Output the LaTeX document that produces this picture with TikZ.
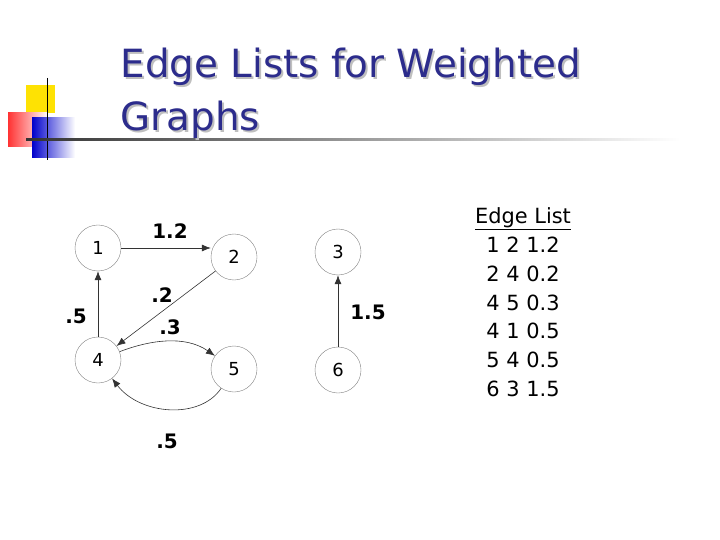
\documentclass[tikz,border=0pt]{standalone}
\usepackage{fontspec}
\setmainfont{DejaVu Sans}
\usetikzlibrary{arrows.meta}
\definecolor{titleblue}{RGB}{44,44,140}
\begin{document}
\begin{tikzpicture}[x=1bp,y=-1bp,>={Latex[length=9bp,width=7bp]},
  vertex/.style={draw=gray,circle,minimum size=46bp,inner sep=0pt,font=\fontsize{18}{18}\selectfont},
  weight/.style={font=\bfseries\fontsize{20}{20}\selectfont},
  edgeline/.style={draw=black!80,->,semithick}]
\useasboundingbox (0,0) rectangle (720,540);
%% corner squares and rule
\fill[yellow!85!orange] (26,85) rectangle (55,113);
\shade[left color=red!80,right color=white] (8,113) rectangle (48,147);
\shade[left color=blue!80!black,right color=white] (32,118) rectangle (75,158);
\draw[thick] (47,78) -- (47,160);
\shade[left color=black!80,right color=white] (26,139) rectangle (680,141);
%% title
\node[anchor=base west,text=gray!50,font=\fontsize{39}{39}\selectfont] at (119,80) {Edge Lists for Weighted};
\node[anchor=base west,text=titleblue,font=\fontsize{39}{39}\selectfont] at (117,78) (title1) {Edge Lists for Weighted};
\node[anchor=base west,text=gray!50,font=\fontsize{39}{39}\selectfont] at (119,133) {Graphs};
\node[anchor=base west,text=titleblue,font=\fontsize{39}{39}\selectfont] at (117,131) (title2) {Graphs};
%% graph
\node (node_1) at (98,248) [vertex] {1};
\node (node_2) at (234,257) [vertex] {2};
\node (node_3) at (338,252) [vertex] {3};
\node (node_4) at (98,360) [vertex] {4};
\node (node_5) at (234,369) [vertex] {5};
\node (node_6) at (338,370) [vertex] {6};
\draw [edgeline] (node_1.east) -- (node_2.west |- node_1.east);
\draw [edgeline] (node_2) -- (node_4);
\draw [edgeline] (node_4) -- (node_1);
\draw [edgeline] (node_6) -- (node_3);
\draw [edgeline] (node_4) .. controls (150,340) and (185,335) .. (node_5);
\draw [edgeline] (node_5) .. controls (200,420) and (140,415) .. (node_4);
\node[weight] (w_12) at (170,231) {1.2};
\node[weight] (w_24) at (162,295) {.2};
\node[weight] (w_41) at (76,316) {.5};
\node[weight] (w_45) at (170,327) {.3};
\node[weight] (w_63) at (368,312) {1.5};
\node[weight] (w_54) at (167,441) {.5};
%% list
\node[align=center,font=\fontsize{21}{29}\selectfont,anchor=north] (edgelist) at (523,204)
  {\underline{Edge List}\\1 2 1.2\\2 4 0.2\\4 5 0.3\\4 1 0.5\\5 4 0.5\\6 3 1.5};
\end{tikzpicture}
\end{document}
